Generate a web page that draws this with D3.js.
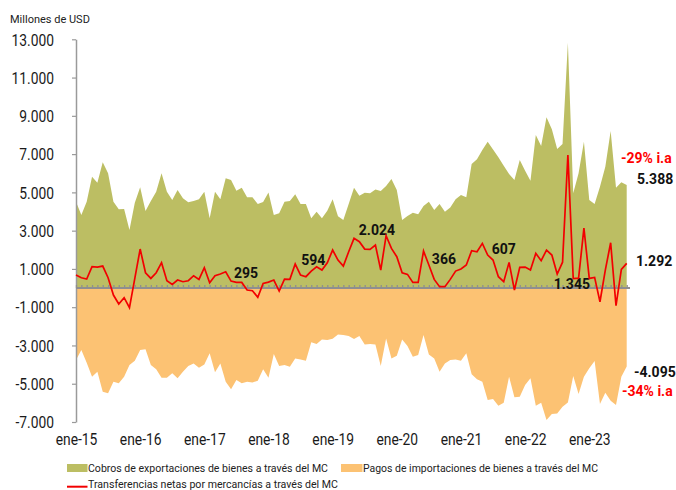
<!DOCTYPE html>
<html>
<head>
<meta charset="utf-8">
<script src="https://cdn.jsdelivr.net/npm/d3@7"></script>
<style>
  html, body { margin: 0; padding: 0; background: #fff; }
  svg { display: block; font-family: Roboto, "Noto Sans", sans-serif; }
</style>
</head>
<body>
<svg id="chart" width="676" height="490"></svg>
<script>
// ---------------- DATA ----------------
const monthNames = ["ene","feb","mar","abr","may","jun","jul","ago","sep","oct","nov","dic"];
const years = ["15","16","17","18","19","20","21","22","23"];
const categories = [];
years.forEach(yy => monthNames.forEach(m => categories.push(m + "-" + yy)));
categories.length = 104; // ene-15 .. ago-23

const xTickLabels = ["ene-15","ene-16","ene-17","ene-18","ene-19","ene-20","ene-21","ene-22","ene-23"];
const yTickValues = [-7000,-5000,-3000,-1000,1000,3000,5000,7000,9000,11000,13000];

const exportsMC = [
  4510,3815,4510,5817,5503,6569,5994,4510,4113,4128,3031,4458,
  5262,4024,4546,5033,5994,5033,4599,5121,4688,4479,4546,4635,
  5033,3643,5033,4635,5733,5644,5085,5242,4740,4740,4390,4494,
  5000,3815,3904,4510,4546,4897,4390,4390,3643,3989,3643,4041,
  4640,3750,3554,4390,5242,4824,4980,4949,5155,5069,5330,5696,
  5121,3554,3763,3937,3851,4285,4510,4076,4390,3989,4215,4635,
  4860,4740,6480,6726,7212,7646,7247,6830,6392,5958,5644,6689,
  6131,5608,7996,7421,8920,8294,7264,7525,12820,4949,5994,7646,
  4599,4390,5294,6339,8205,5242,5524,5388
];
const importsMC = [
  -3763,-3240,-3904,-4635,-4374,-5419,-5503,-4897,-4980,-4635,-4024,-3799,
  -3240,-3204,-4024,-4249,-4688,-4688,-4458,-4719,-4374,-4076,-3937,-4163,
  -3989,-3413,-4406,-3937,-4897,-5294,-4808,-4980,-4897,-4930,-4845,-4249,
  -4688,-3449,-4076,-4024,-4113,-3676,-3728,-3799,-2838,-2927,-2683,-2718,
  -2650,-2421,-2456,-2508,-2665,-2508,-2944,-2927,-2944,-4076,-2630,-3676,
  -3536,-2683,-3031,-3589,-3501,-2456,-3467,-3676,-4374,-3937,-3763,-3728,
  -3799,-3413,-4510,-4771,-4897,-5853,-5801,-6151,-5994,-4635,-5712,-5677,
  -5069,-4719,-6151,-5994,-6898,-6585,-6551,-6203,-5976,-4599,-5540,-4635,
  -4197,-3815,-6062,-5471,-5890,-6114,-4635,-4095
];
const netMC = [
  680,540,470,1115,1097,1150,540,-366,-836,-505,-1028,505,
  2038,801,505,801,1324,383,192,418,331,383,644,453,
  1062,279,644,732,854,366,296,295,-105,-139,-488,244,
  313,418,-157,470,453,1254,679,594,888,1115,940,1324,
  1986,1463,1150,1898,2596,2421,2038,2020,2247,940,2735,2073,
  1637,801,714,296,296,1934,1202,453,70,70,453,888,
  1000,1202,1951,1898,2334,1725,1463,592,331,1341,-105,1080,
  1097,940,1811,1428,1986,1725,732,1350,6951,500,520,3130,
  505,557,-715,940,2369,-923,977,1292
];

const seriesNames = [
  "Cobros de exportaciones de bienes a través del MC",
  "Pagos de importaciones de bienes a través del MC",
  "Transferencias netas por mercancías a través del MC"
];

const annotations = [
  {text: "295",   cat: "sep-17", val: 500,  dx: -1},
  {text: "594",   cat: "sep-18", val: 1212, dx: 2},
  {text: "2.024", cat: "sep-19", val: 2780, dx: 1.5},
  {text: "366",   cat: "oct-20", val: 1239, dx: -1},
  {text: "607",   cat: "sep-21", val: 1761, dx: 0},
  {text: "1.345", cat: "sep-22", val: -68,  dx: 4}
];
const endLabels = [
  {text: "-29% i.a", val: 6543,  color: "#ff0000", dx: -5.7},
  {text: "5.388",    val: 5419,  color: "#111",    dx: 10.3},
  {text: "1.292",    val: 1134,  color: "#111",    dx: 9.3},
  {text: "-4.095",   val: -4651, color: "#111",    dx: 7.3},
  {text: "-34% i.a", val: -5660, color: "#ff0000", dx: -4.7}
];

// ---------------- CHART ----------------
const svg = d3.select("#chart");
const colExp = "#bcbe63", colImp = "#fcc273", colNet = "#f20000";
const sx = 0.865;

const loc = d3.formatLocale({decimal: ",", thousands: ".", grouping: [3], currency: ["", ""], minus: "-"});
const fmt = loc.format(",d");

const x = d3.scalePoint().domain(categories).range([76, 626.7]);
const y = d3.scaleLinear().domain([-7000, 13000]).range([422, 39.3]);

const area = arr => d3.area()
  .x((d, i) => x(categories[i]))
  .y0(y(0))
  .y1(d => y(d))(arr);

svg.append("path").attr("d", area(exportsMC)).attr("fill", colExp);
svg.append("path").attr("d", area(importsMC)).attr("fill", colImp);

// y axis
const yAx = svg.append("g").attr("transform", "translate(76,0)")
  .call(d3.axisLeft(y).tickValues(yTickValues).tickSize(4).tickSizeOuter(0).tickFormat(fmt));
yAx.select(".domain").attr("stroke", "#9a9a9a").attr("stroke-width", 1.5);
yAx.selectAll(".tick line").attr("stroke", "#9a9a9a").attr("stroke-width", 1.2);
yAx.selectAll(".tick text")
  .attr("x", -22 / sx).attr("dy", "0.36em")
  .attr("transform", `scale(${sx},1)`)
  .attr("font-size", 16).attr("fill", "#1a1a1a").attr("font-family", "Roboto");

// zero axis with monthly ticks
const zAx = svg.append("g").attr("transform", `translate(0,${y(0)})`)
  .call(d3.axisTop(x).tickSize(3).tickSizeOuter(0).tickFormat(""));
zAx.select(".domain").attr("stroke", "#8f8f8f").attr("stroke-width", 2)
  .attr("d", `M76,0H630`);
zAx.selectAll(".tick line").attr("stroke", "#8f8f8f").attr("stroke-width", 1.3);

// x labels
const xAx = svg.append("g").attr("transform", "translate(0,445)")
  .call(d3.axisBottom(x).tickValues(xTickLabels).tickSize(0).tickFormat(d => d));
xAx.select(".domain").remove();
xAx.selectAll(".tick text").attr("y", 0).attr("dy", 0)
  .attr("transform", `scale(${sx},1)`)
  .attr("font-size", 16).attr("fill", "#1a1a1a").attr("font-family", "Roboto");

// annotations (under the line)
annotations.forEach(a => {
  svg.append("text").attr("x", x(a.cat) + a.dx).attr("y", y(a.val))
    .attr("text-anchor", "middle").attr("font-weight", "bold").attr("font-size", 14)
    .attr("fill", "#111").text(a.text);
});

// net line
const line = d3.line().x((d, i) => x(categories[i])).y(d => y(d));
svg.append("path").attr("d", line(netMC))
  .attr("fill", "none").attr("stroke", colNet).attr("stroke-width", 1.7).attr("stroke-linejoin", "miter");

const lastX = x(categories[categories.length - 1]);
endLabels.forEach(a => {
  svg.append("text").attr("x", lastX + a.dx).attr("y", y(a.val))
    .attr("font-weight", "bold").attr("font-size", 14)
    .attr("fill", a.color).text(a.text);
});

// unit label
svg.append("text").attr("x", 10).attr("y", 23).attr("font-size", 11).attr("fill", "#222")
  .text("Millones de USD");

// legend
const lg = svg.append("g");
lg.append("rect").attr("x", 67).attr("y", 464).attr("width", 20.5).attr("height", 8).attr("fill", colExp);
lg.append("text").attr("x", 88).attr("y", 472).attr("font-size", 10.5).attr("fill", "#222")
  .attr("textLength", 240).attr("lengthAdjust", "spacingAndGlyphs").text(seriesNames[0]);
lg.append("rect").attr("x", 341).attr("y", 464).attr("width", 21.5).attr("height", 8).attr("fill", colImp);
lg.append("text").attr("x", 363).attr("y", 472).attr("font-size", 10.5).attr("fill", "#222")
  .attr("textLength", 235).attr("lengthAdjust", "spacingAndGlyphs").text(seriesNames[1]);
lg.append("line").attr("x1", 67).attr("x2", 87.5).attr("y1", 486.7).attr("y2", 486.7)
  .attr("stroke", colNet).attr("stroke-width", 2);
lg.append("text").attr("x", 88).attr("y", 488).attr("font-size", 10.5).attr("fill", "#222")
  .attr("textLength", 250).attr("lengthAdjust", "spacingAndGlyphs").text(seriesNames[2]);
</script>
</body>
</html>
